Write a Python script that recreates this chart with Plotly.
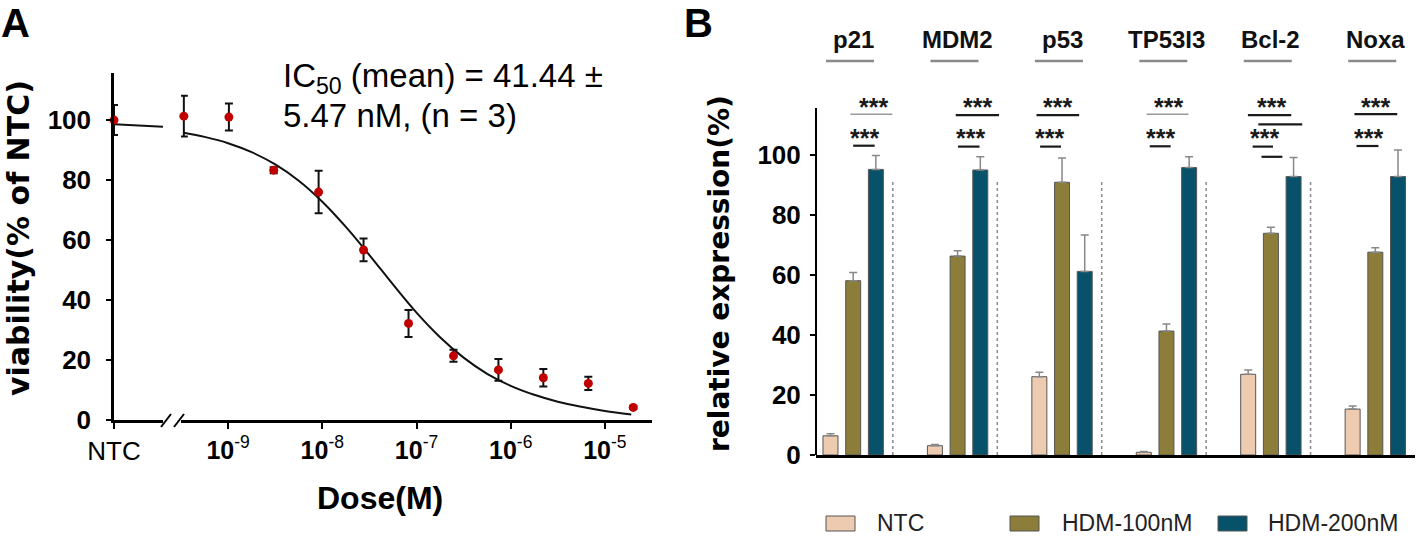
import numpy as np
import plotly.graph_objects as go

W, H = 1416, 539


def px(x):
    return x / W


def py(y):
    return 1 - y / H


ARIAL = "Liberation Sans, Arial, sans-serif"
VERD = "DejaVu Sans, Verdana, sans-serif"

# ---------------- Panel A data ----------------
doses = [3.39e-10, 1.02e-9, 3.05e-9, 9.14e-9, 2.74e-8, 8.23e-8, 2.47e-7, 7.41e-7, 2.22e-6, 6.67e-6, 2.0e-5]
viability = [101.3, 101.0, 83.3, 76.0, 56.7, 32.2, 21.4, 16.7, 14.1, 12.2, 4.2]
viability_err = [6.8, 4.5, 1.0, 7.1, 3.8, 4.5, 2.0, 3.6, 2.9, 2.2, 0.5]
ntc_label = ["NTC"]
ntc_viability = [100.0]
ntc_viability_err = [5.0]
fit_log_dose = [-9.47, -9.25, -9.0, -8.75, -8.5, -8.25, -8.0, -7.75, -7.5, -7.25, -7.0,
                -6.75, -6.5, -6.25, -6.0, -5.75, -5.5, -5.25, -5.0, -4.72]
fit_viability = [95.8, 94.4, 92.3, 89.3, 85.2, 79.8, 72.8, 64.4, 55.0, 45.2, 35.8,
                 27.6, 20.8, 15.4, 11.4, 8.4, 6.1, 4.4, 3.0, 1.8]
ntc_fit_pos = [0, 1]
ntc_fit_viability = [98.6, 97.8]
dose_ticks = [1e-9, 1e-8, 1e-7, 1e-6, 1e-5]
dose_tick_text = ["<b>10</b><sup>-9</sup>", "<b>10</b><sup>-8</sup>", "<b>10</b><sup>-7</sup>",
                  "<b>10</b><sup>-6</sup>", "<b>10</b><sup>-5</sup>"]
y_ticks = [0, 20, 40, 60, 80, 100]
y_tick_text = ["<b>0</b>", "<b>20</b>", "<b>40</b>", "<b>60</b>", "<b>80</b>", "<b>100</b>"]

# ---------------- Panel B data ----------------
genes = ["p21", "MDM2", "p53", "TP53I3", "Bcl-2", "Noxa"]
series_names = ["NTC", "HDM-100nM", "HDM-200nM"]
ntc_expr = [6.4, 3.1, 26.1, 0.9, 26.9, 15.3]
ntc_expr_err = [0.7, 0.4, 1.5, 0.3, 1.4, 1.0]
hdm100_expr = [58.1, 66.3, 90.9, 41.3, 73.9, 67.6]
hdm100_expr_err = [2.7, 1.8, 8.1, 2.4, 2.0, 1.5]
hdm200_expr = [95.2, 95.0, 61.2, 95.8, 92.8, 92.8]
hdm200_expr_err = [4.6, 4.4, 12.1, 3.6, 6.4, 8.9]

colors = ["#EDCBB0", "#8C7E3A", "#07526A"]

fig = go.Figure()

# ---- Panel A traces ----
fig.add_trace(go.Scatter(x=ntc_fit_pos, y=ntc_fit_viability, mode="lines",
                         line=dict(color="#111", width=2), xaxis="x", yaxis="y",
                         showlegend=False, hoverinfo="skip"))
fig.add_trace(go.Scatter(x=[0], y=ntc_viability, mode="markers",
                         marker=dict(color="#C00000", size=9),
                         error_y=dict(type="data", array=ntc_viability_err, color="#111",
                                      thickness=2, width=4),
                         cliponaxis=False, xaxis="x", yaxis="y", showlegend=False))
fig.add_trace(go.Scatter(x=[10 ** v for v in fit_log_dose], y=fit_viability, mode="lines",
                         line=dict(color="#111", width=2, shape="spline"),
                         xaxis="x2", yaxis="y", showlegend=False, hoverinfo="skip"))
fig.add_trace(go.Scatter(x=doses, y=viability, mode="markers",
                         marker=dict(color="#C00000", size=9),
                         error_y=dict(type="data", array=viability_err, color="#111",
                                      thickness=2, width=4),
                         cliponaxis=False, xaxis="x2", yaxis="y", showlegend=False))

# ---- Panel B traces ----
xpos = list(range(len(genes)))
for name, vals, errs, col in zip(series_names,
                                 [ntc_expr, hdm100_expr, hdm200_expr],
                                 [ntc_expr_err, hdm100_expr_err, hdm200_expr_err],
                                 colors):
    fig.add_trace(go.Bar(x=xpos, y=vals, name=name, xaxis="x3", yaxis="y2",
                         marker=dict(color=col, line=dict(color="#555", width=1)),
                         error_y=dict(type="data", symmetric=False, array=errs,
                                      arrayminus=[0] * len(errs), color="#888",
                                      thickness=1.5, width=4),
                         showlegend=False))

shapes = []
annotations = []

# Panel A axis break marks
for x0 in (161, 174):
    shapes.append(dict(type="line", xref="paper", yref="paper",
                       x0=px(x0), y0=py(427), x1=px(x0 + 10), y1=py(414),
                       line=dict(color="black", width=2)))

# Panel B y-axis line (stops at ~116)
shapes.append(dict(type="line", xref="x3 domain", yref="y2", x0=0, x1=0, y0=0, y1=115.7,
                   line=dict(color="black", width=2)))

# Dotted separators
for k in range(len(genes) - 1):
    shapes.append(dict(type="line", xref="x3", yref="y2", x0=k + 0.38, x1=k + 0.38,
                       y0=0, y1=91.7, line=dict(color="#8a8a8a", width=1.5, dash="dot")))

# Gene labels with gray underline
for k, g in enumerate(genes):
    annotations.append(dict(x=k, y=138.5, xref="x3", yref="y2", text="<b>%s</b>" % g,
                            showarrow=False, font=dict(family=ARIAL, size=24, color="#111"),
                            xanchor="center", yanchor="middle"))
    shapes.append(dict(type="line", xref="x3", yref="y2", x0=k - 0.26, x1=k + 0.2,
                       y0=131.3, y1=131.3, line=dict(color="#8a8a8a", width=2.5)))

# Significance brackets: (gene index, [lines (x0, x1, y, gray?)], star upper x, star lower x)
sig = [
    (0, [(-0.027, 0.375, 113.6, True), (0.0, 0.206, 103.1, False)], 0.19, 0.11),
    (1, [(-0.018, 0.397, 113.3, False), (0.004, 0.21, 102.8, False)], 0.186, 0.119),
    (2, [(-0.244, 0.164, 113.3, False), (-0.21, -0.01, 102.8, False)], -0.043, -0.12),
    (3, [(-0.19, 0.21, 113.6, True), (-0.16, 0.04, 102.9, False)], 0.015, -0.06),
    (4, [(-0.22, 0.195, 113.3, False), (-0.12, 0.30, 110.2, False),
         (-0.175, 0.02, 102.8, False), (-0.09, 0.11, 99.4, False)], 0.01, -0.06),
    (5, [(-0.2, 0.21, 113.6, False), (-0.18, 0.03, 103.0, False)], 0.0, -0.07),
]
for k, lines, su, sl in sig:
    for x0, x1, yv, gray in lines:
        shapes.append(dict(type="line", xref="x3", yref="y2", x0=k + x0, x1=k + x1,
                           y0=yv, y1=yv,
                           line=dict(color="#999" if gray else "#1a1a1a",
                                     width=1.5 if gray else 2.2)))
    for xs, ys in ((su, 116.0), (sl, 105.7)):
        annotations.append(dict(x=k + xs, y=ys, xref="x3", yref="y2", text="<b>***</b>",
                                showarrow=False, font=dict(family=ARIAL, size=25, color="#1a1a1a"),
                                xanchor="center", yanchor="middle"))

# Legend (manual)
leg_items = [(826, 875), (1010, 1060), (1218, 1266)]
for (sx, tx), name, col in zip(leg_items, series_names, colors):
    shapes.append(dict(type="rect", xref="paper", yref="paper",
                       x0=px(sx), x1=px(sx + 29), y0=py(531), y1=py(516),
                       fillcolor=col, line=dict(color="#555", width=1)))
    annotations.append(dict(x=px(tx), y=py(523), xref="paper", yref="paper", text=name,
                            showarrow=False, xanchor="left", yanchor="middle",
                            font=dict(family=ARIAL, size=23, color="#222")))

# Panel labels and titles
annotations += [
    dict(x=px(0), y=py(0), xref="paper", yref="paper", text="<b>A</b>", showarrow=False,
         xanchor="left", yanchor="top", borderpad=0,
         font=dict(family=ARIAL, size=40, color="black")),
    dict(x=px(683), y=py(0), xref="paper", yref="paper", text="<b>B</b>", showarrow=False,
         xanchor="left", yanchor="top", borderpad=0,
         font=dict(family=ARIAL, size=40, color="black")),
    dict(x=px(19), y=py(238), xref="paper", yref="paper", text="<b>viability(% of NTC)</b>",
         showarrow=False, textangle=-90, xanchor="center", yanchor="middle",
         font=dict(family=VERD, size=30, color="black")),
    dict(x=px(719), y=py(274), xref="paper", yref="paper", text="<b>relative expression(%)</b>",
         showarrow=False, textangle=-90, xanchor="center", yanchor="middle",
         font=dict(family=VERD, size=28, color="black")),
    dict(x=px(380), y=py(498), xref="paper", yref="paper", text="<b>Dose(M)</b>",
         showarrow=False, xanchor="center", yanchor="middle",
         font=dict(family=ARIAL, size=32, color="black")),
    dict(x=px(281), y=py(78), xref="paper", yref="paper",
         text="IC<sub>50</sub> (mean) = 41.44 ±", showarrow=False,
         xanchor="left", yanchor="middle", font=dict(family=ARIAL, size=33, color="black")),
    dict(x=px(281), y=py(115), xref="paper", yref="paper",
         text="5.47 nM, (n = 3)", showarrow=False,
         xanchor="left", yanchor="middle", font=dict(family=ARIAL, size=33, color="black")),
]

axis_common = dict(showgrid=False, zeroline=False, color="black", automargin=False)

fig.update_layout(
    template="none",
    width=W, height=H, autosize=False,
    margin=dict(l=0, r=0, t=0, b=0, pad=0, autoexpand=False),
    paper_bgcolor="white", plot_bgcolor="white",
    barmode="group", bargap=0.348, bargroupgap=0.34,
    showlegend=False,
    xaxis=dict(domain=[px(114), px(163)], range=[0, 1], anchor="y",
               tickvals=[0], ticktext=ntc_label, ticks="outside", ticklen=6, tickwidth=2,
               showline=True, linecolor="black", linewidth=2.5,
               tickfont=dict(family=ARIAL, size=26, color="black"), **axis_common),
    xaxis2=dict(domain=[px(181), px(652)], type="log", range=[-9.50, -4.50], anchor="y",
                tickvals=dose_ticks, ticktext=dose_tick_text, ticks="outside", ticklen=6,
                tickwidth=2, showline=True, linecolor="black", linewidth=2.5,
                tickfont=dict(family=ARIAL, size=25, color="black"), **axis_common),
    yaxis=dict(domain=[py(420), py(73)], range=[0, 115.7], anchor="x",
               tickvals=y_ticks, ticktext=y_tick_text, ticks="outside", ticklen=5, tickwidth=2,
               ticklabelstandoff=10,
               showline=True, linecolor="black", linewidth=2.5,
               tickfont=dict(family=ARIAL, size=26, color="black"), **axis_common),
    xaxis3=dict(domain=[px(816), px(1415)], range=[-0.356, 5.38], anchor="y2",
                showticklabels=False, ticks="", showline=True, linecolor="black",
                linewidth=2.5, **axis_common),
    yaxis2=dict(domain=[py(455), py(20)], range=[0, 145], anchor="x3",
                tickvals=y_ticks, ticktext=y_tick_text, ticks="outside", ticklen=5, tickwidth=2,
                ticklabelstandoff=4,
                showline=False, tickfont=dict(family=ARIAL, size=26, color="black"),
                **axis_common),
    shapes=shapes,
    annotations=annotations,
)

fig.write_html("out.html", config={"displayModeBar": False},
               post_script="document.body.style.margin='0';document.body.style.padding='0';")
